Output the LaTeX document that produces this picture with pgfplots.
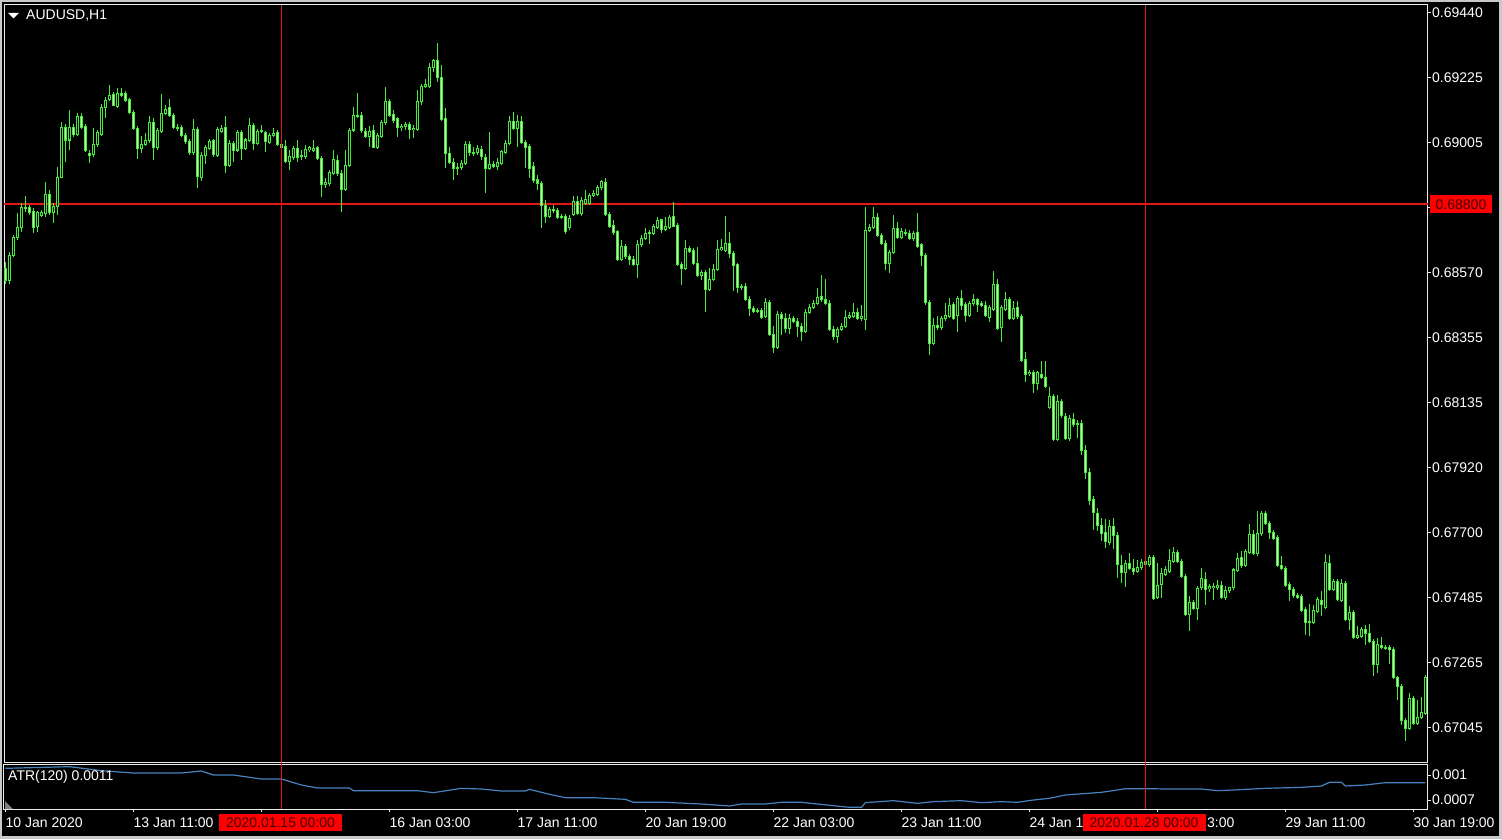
\documentclass[border=0pt]{standalone}
\usepackage{pgfplots}
\pgfplotsset{compat=1.18}
\usepackage{pgfplotstable}
\usepackage{fontspec}
\setmainfont{Liberation Sans}
\definecolor{candle}{RGB}{70,235,60}
\definecolor{bearfill}{RGB}{190,255,175}
\definecolor{crosscol}{RGB}{230,25,25}
\definecolor{atrblue}{RGB}{70,130,190}
\definecolor{framecol}{RGB}{235,235,235}
\definecolor{bordergray}{RGB}{200,200,200}
\definecolor{boxtext}{RGB}{70,0,0}
\newcommand\mtfont{\fontsize{14}{16.8}\selectfont}

\pgfplotstableread{
i o h l c
0 68585 68605 68534 68544
1 68544 68638 68531 68628
2 68628 68695 68622 68689
3 68689 68769 68678 68722
4 68722 68802 68705 68789
5 68789 68826 68772 68786
6 68786 68796 68762 68772
7 68776 68786 68702 68722
8 68725 68776 68705 68769
9 68762 68779 68756 68772
10 68769 68873 68756 68833
11 68833 68846 68762 68772
12 68772 68802 68735 68792
13 68792 68923 68762 68890
14 68890 69074 68886 69057
15 69057 69067 68940 69014
16 69014 69114 68980 69057
17 69057 69067 69024 69034
18 69034 69104 69027 69094
19 69094 69104 69050 69057
20 69060 69067 68973 68980
21 68970 68980 68936 68963
22 68967 69054 68957 69000
23 68997 69047 68990 69037
24 69034 69134 69027 69124
25 69124 69158 69087 69148
26 69148 69198 69144 69164
27 69168 69174 69127 69131
28 69127 69188 69121 69171
29 69171 69188 69158 69164
30 69171 69178 69141 69148
31 69148 69154 69101 69107
32 69107 69114 69047 69054
33 69054 69060 68950 68987
34 68987 69030 68973 69000
35 69000 69037 68993 69014
36 69014 69097 69007 69074
37 69074 69087 68947 68990
38 68990 69054 68983 69047
39 69044 69168 69037 69104
40 69104 69131 69097 69117
41 69121 69151 69091 69097
42 69097 69104 69050 69057
43 69057 69067 69044 69054
44 69057 69064 69024 69030
45 69030 69037 69000 69010
46 69010 69017 68963 68970
47 68970 69084 68963 69050
48 69050 69057 68853 68890
49 68890 68973 68876 68963
50 68963 68997 68936 68990
51 68987 69017 68980 69010
52 69010 69017 68957 68963
53 68963 69057 68957 69050
54 69044 69064 69037 69054
55 69057 69097 68906 68930
56 68930 69014 68923 69003
57 69003 69010 68940 68980
58 68980 69047 68973 69040
59 69040 69047 68947 68987
60 68987 69020 68980 69014
61 69014 69087 69007 69064
62 69064 69070 68980 69003
63 69003 69050 68997 69044
64 69044 69064 69037 69047
65 69037 69044 68973 69007
66 69007 69037 69000 69030
67 69030 69054 69024 69037
68 69040 69047 68993 69000
69 69000 69014 68980 68990
70 68993 69014 68936 68943
71 68943 68980 68913 68957
72 68957 68993 68947 68987
73 68987 69014 68940 68957
74 68960 68980 68947 68963
75 68957 68997 68950 68983
76 68983 68993 68973 68987
77 68980 69014 68973 68987
78 68987 68993 68947 68953
79 68953 68960 68823 68866
80 68866 68886 68853 68873
81 68869 68913 68859 68903
82 68903 68980 68896 68950
83 68947 68963 68893 68903
84 68903 68913 68772 68849
85 68849 68980 68843 68930
86 68930 69054 68923 69047
87 69047 69124 69040 69097
88 69097 69171 69087 69094
89 69094 69107 69037 69044
90 69044 69054 69020 69027
91 69027 69060 68990 69044
92 69044 69064 68987 68990
93 68990 69037 68983 69030
94 69027 69080 69020 69074
95 69070 69191 69064 69141
96 69144 69151 69091 69097
97 69101 69114 69070 69080
98 69084 69091 69024 69054
99 69054 69067 69044 69060
100 69060 69074 69047 69067
101 69067 69074 69017 69050
102 69050 69064 69020 69054
103 69050 69181 69044 69144
104 69144 69201 69131 69194
105 69194 69218 69188 69201
106 69194 69271 69188 69258
107 69258 69285 69241 69282
108 69282 69338 69208 69225
109 69225 69265 69077 69084
110 69087 69121 68920 68970
111 68970 68990 68933 68940
112 68940 68953 68880 68920
113 68920 68936 68896 68923
114 68923 68947 68913 68936
115 68936 69010 68930 69000
116 69000 69010 68960 68970
117 68970 68990 68960 68973
118 68973 68997 68963 68987
119 68983 68993 68947 68957
120 68957 68967 68836 68920
121 68920 69040 68913 68933
122 68933 68943 68920 68926
123 68926 68953 68913 68940
124 68936 68980 68930 68977
125 68973 69014 68967 69003
126 69003 69094 68997 69077
127 69077 69107 69047 69054
128 69054 69097 68990 69077
129 69077 69094 69000 69007
130 69007 69014 68920 68990
131 68993 69000 68886 68920
132 68923 68940 68869 68876
133 68880 68896 68846 68869
134 68869 68876 68719 68796
135 68796 68813 68735 68759
136 68759 68789 68752 68782
137 68782 68796 68769 68776
138 68779 68786 68749 68756
139 68759 68766 68749 68756
140 68759 68766 68699 68709
141 68722 68762 68712 68752
142 68766 68826 68759 68809
143 68809 68826 68762 68769
144 68769 68823 68759 68813
145 68802 68846 68796 68816
146 68802 68836 68796 68829
147 68829 68846 68823 68833
148 68833 68863 68826 68856
149 68853 68880 68846 68873
150 68873 68886 68759 68766
151 68766 68772 68719 68725
152 68729 68746 68695 68705
153 68709 68712 68608 68615
154 68615 68679 68608 68658
155 68658 68668 68615 68625
156 68625 68632 68595 68615
157 68615 68625 68592 68598
158 68598 68679 68551 68665
159 68665 68695 68655 68685
160 68685 68719 68679 68702
161 68702 68715 68668 68705
162 68702 68732 68695 68725
163 68722 68756 68715 68746
164 68746 68752 68705 68715
165 68715 68756 68709 68725
166 68722 68762 68715 68756
167 68759 68806 68722 68725
168 68729 68735 68592 68598
169 68598 68605 68528 68585
170 68585 68679 68578 68652
171 68652 68658 68635 68642
172 68645 68652 68595 68601
173 68601 68655 68555 68561
174 68561 68578 68545 68571
175 68571 68578 68437 68514
176 68514 68585 68508 68548
177 68548 68598 68541 68581
178 68581 68679 68575 68648
179 68648 68682 68642 68652
180 68645 68759 68638 68668
181 68668 68705 68618 68635
182 68635 68642 68508 68595
183 68595 68601 68501 68521
184 68521 68531 68511 68524
185 68524 68534 68474 68481
186 68481 68491 68424 68451
187 68451 68457 68434 68441
188 68441 68451 68434 68444
189 68444 68451 68414 68421
190 68424 68484 68417 68471
191 68471 68478 68357 68364
192 68364 68390 68300 68320
193 68320 68441 68313 68431
194 68431 68437 68360 68417
195 68417 68434 68367 68384
196 68384 68431 68364 68417
197 68417 68424 68400 68407
198 68407 68417 68354 68390
199 68390 68400 68340 68374
200 68374 68447 68367 68437
201 68437 68464 68431 68454
202 68454 68478 68447 68467
203 68467 68518 68461 68488
204 68488 68561 68471 68478
205 68478 68548 68461 68467
206 68467 68478 68374 68380
207 68380 68390 68344 68354
208 68354 68387 68333 68380
209 68380 68400 68374 68390
210 68390 68444 68384 68421
211 68421 68437 68414 68427
212 68424 68467 68417 68437
213 68437 68451 68410 68417
214 68417 68461 68410 68421
215 68414 68789 68377 68712
216 68712 68732 68705 68722
217 68722 68789 68715 68756
218 68756 68769 68689 68695
219 68695 68702 68662 68668
220 68668 68679 68578 68601
221 68601 68645 68568 68638
222 68638 68762 68632 68719
223 68719 68739 68682 68689
224 68689 68719 68682 68709
225 68705 68715 68692 68702
226 68702 68712 68679 68685
227 68685 68709 68675 68702
228 68702 68769 68652 68658
229 68662 68668 68592 68628
230 68628 68635 68461 68471
231 68471 68478 68293 68333
232 68333 68417 68327 68394
233 68394 68427 68380 68387
234 68387 68424 68377 68417
235 68414 68467 68407 68424
236 68424 68484 68417 68461
237 68461 68471 68410 68417
238 68424 68491 68370 68484
239 68484 68511 68444 68461
240 68464 68471 68404 68427
241 68427 68474 68421 68467
242 68467 68498 68457 68478
243 68478 68484 68437 68464
244 68467 68474 68454 68461
245 68461 68474 68421 68427
246 68421 68461 68404 68454
247 68447 68575 68441 68531
248 68531 68548 68377 68384
249 68384 68461 68337 68454
250 68447 68504 68441 68481
251 68481 68488 68410 68417
252 68417 68474 68410 68451
253 68451 68474 68414 68421
254 68424 68431 68270 68277
255 68277 68303 68203 68230
256 68230 68243 68223 68236
257 68236 68243 68166 68199
258 68199 68240 68176 68233
259 68230 68273 68213 68220
260 68220 68273 68183 68189
261 68119 68186 68112 68156
262 68156 68163 68005 68012
263 68012 68159 68005 68139
264 68139 68146 68082 68089
265 68089 68099 68009 68015
266 68015 68092 68005 68082
267 68079 68102 68055 68062
268 68062 68076 68015 68065
269 68065 68076 67958 67975
270 67975 67992 67881 67901
271 67901 67915 67791 67808
272 67808 67824 67707 67764
273 67764 67781 67704 67724
274 67724 67747 67670 67697
275 67697 67744 67647 67667
276 67667 67741 67657 67720
277 67720 67747 67643 67690
278 67690 67700 67546 67593
279 67590 67623 67529 67566
280 67566 67607 67516 67596
281 67596 67630 67573 67580
282 67580 67610 67556 67570
283 67570 67607 67563 67583
284 67583 67613 67576 67600
285 67590 67607 67583 67600
286 67590 67623 67583 67616
287 67616 67623 67473 67479
288 67482 67596 67476 67523
289 67523 67580 67479 67560
290 67560 67586 67553 67576
291 67570 67643 67563 67607
292 67603 67650 67596 67633
293 67633 67640 67596 67603
294 67603 67610 67546 67553
295 67553 67560 67419 67426
296 67426 67486 67369 67466
297 67466 67473 67439 67446
298 67446 67519 67406 67513
299 67513 67580 67506 67543
300 67543 67566 67456 67509
301 67509 67526 67499 67516
302 67513 67529 67473 67519
303 67516 67540 67506 67523
304 67523 67536 67476 67482
305 67482 67519 67473 67506
306 67503 67519 67496 67513
307 67513 67580 67506 67573
308 67573 67630 67566 67613
309 67613 67637 67580 67586
310 67590 67643 67583 67637
311 67633 67727 67627 67694
312 67694 67707 67623 67630
313 67630 67771 67620 67697
314 67697 67771 67690 67764
315 67764 67771 67724 67730
316 67730 67737 67677 67700
317 67700 67707 67674 67680
318 67684 67690 67583 67590
319 67590 67620 67573 67580
320 67580 67586 67516 67523
321 67526 67533 67469 67509
322 67509 67516 67479 67489
323 67489 67496 67476 67482
324 67486 67493 67432 67439
325 67442 67449 67355 67399
326 67399 67459 67352 67402
327 67399 67456 67392 67439
328 67436 67483 67429 67476
329 67473 67503 67419 67459
330 67449 67627 67442 67600
331 67596 67623 67503 67509
332 67509 67543 67503 67536
333 67536 67543 67469 67476
334 67473 67543 67466 67529
335 67529 67536 67402 67409
336 67409 67452 67372 67432
337 67432 67439 67342 67348
338 67348 67385 67342 67355
339 67352 67382 67345 67375
340 67375 67389 67322 67362
341 67362 67392 67328 67335
342 67335 67342 67218 67258
343 67258 67348 67231 67322
344 67322 67348 67308 67315
345 67315 67322 67305 67312
346 67312 67322 67258 67308
347 67308 67315 67208 67215
348 67215 67221 67138 67184
349 67184 67191 67054 67071
350 67071 67077 67000 67044
351 67044 67161 67037 67144
352 67144 67151 67054 67060
353 67060 67138 67054 67080
354 67080 67147 67074 67094
355 67094 67221 67087 67215
}\candles

\pgfplotstableread{
i v
0 108.0
16 110.0
24 105.2
32 102.4
44 102.4
49 104.8
52 100.0
57 100.0
64 95.2
69 95.2
74 88.0
78 84.4
86 84.4
87 81.2
103 81.2
107 78.8
114 84.0
119 83.2
124 80.8
130 80.8
131 82.8
136 76.8
140 72.8
147 72.8
155 70.8
157 67.2
165 67.2
174 65.2
181 62.8
184 65.2
190 65.2
194 67.2
199 67.2
203 65.2
211 61.2
214 61.2
215 66.8
222 69.2
228 66.0
232 68.0
239 69.2
244 66.8
249 68.0
253 67.2
257 70.0
261 72.0
265 76.0
274 79.2
278 82.0
280 83.6
286 83.6
290 83.2
299 83.2
303 81.2
307 82.0
315 84.0
324 85.2
329 86.8
331 91.2
334 91.2
335 86.8
340 88.0
345 90.8
349 90.8
355 90.8
}\atr

\begin{document}
\begin{tikzpicture}[x=1pt,y=1pt]
\fill[black] (0,0) rectangle (1502,839);
\fill[bordergray] (0,837) rectangle (1502,839);
\fill[bordergray] (0,0) rectangle (1.5,839);
\fill[bordergray] (1499,0) rectangle (1502,839);
\fill[bordergray] (0,0) rectangle (1502,3);

\begin{axis}[
  at={(4pt,77pt)}, anchor=south west,
  scale only axis, width=1424pt, height=757pt,
  xmin=-0.35, xmax=355.65, ymin=66929.8, ymax=69465.75,
  scaled x ticks=false, scaled y ticks=false,
  axis line style={framecol, line width=1pt},
  xtick=\empty,
  ytick={69440,69222.25,69004.5,68786.75,68569,68351.25,68133.5,67915.75,67698,67480.25,67262.5,67044.75},
  yticklabels={0.69440,0.69225,0.69005,,0.68570,0.68355,0.68135,0.67920,0.67700,0.67485,0.67265,0.67045},
  ytick pos=right, yticklabel pos=right,
  tick align=outside, major tick length=3pt,
  tick style={framecol, line width=0.8pt},
  yticklabel style={font=\mtfont, text=white, anchor=west, inner sep=0pt, xshift=1pt},
  clip=true,
]
\addplot[crosscol, line width=1.7pt, mark=none, forget plot] coordinates {(-1,68800) (357,68800)};
\addplot[draw=none, forget plot,
  error bars/.cd, y dir=both, y explicit, error mark=none,
  error bar style={draw=candle, line width=1pt}]
  table[x=i, y expr={(\thisrow{h}+\thisrow{l})/2}, y error expr={(\thisrow{h}-\thisrow{l})/2}] {\candles};
\addplot[draw=none, forget plot,
  error bars/.cd, y dir=both, y explicit, error mark=none,
  error bar style={draw=candle, line width=3pt}]
  table[x=i, y expr={(\thisrow{o}+\thisrow{c})/2}, y error expr={abs(\thisrow{c}-\thisrow{o})/2+1.7}] {\candles};
\addplot[draw=none, forget plot,
  error bars/.cd, y dir=both, y explicit, error mark=none,
  error bar style={draw=black, line width=1pt}]
  table[x=i, y expr={(\thisrow{o}+\thisrow{c})/2}, y error expr={max(0,(\thisrow{c}-\thisrow{o})/2-1.7)}] {\candles};
\addplot[draw=none, forget plot,
  error bars/.cd, y dir=both, y explicit, error mark=none,
  error bar style={draw=bearfill, line width=1pt}]
  table[x=i, y expr={(\thisrow{o}+\thisrow{c})/2}, y error expr={max(0,(\thisrow{o}-\thisrow{c})/2-1.7)}] {\candles};
\end{axis}

\begin{axis}[
  at={(4pt,30pt)}, anchor=south west,
  scale only axis, width=1424pt, height=45pt,
  xmin=-0.35, xmax=355.65, ymin=59.2, ymax=113.2,
  scaled x ticks=false, scaled y ticks=false,
  axis line style={framecol, line width=1pt},
  xtick={0,32,64,96,128,160,192,224,256,288,320,352},
  xticklabels={10 Jan 2020,13 Jan 11:00,,16 Jan 03:00,17 Jan 11:00,20 Jan 19:00,22 Jan 03:00,23 Jan 11:00,24 Jan 1,,29 Jan 11:00,30 Jan 19:00},
  xtick pos=bottom, xticklabel pos=left,
  ytick={100,70}, yticklabels={0.001,0.0007},
  ytick pos=right, yticklabel pos=right,
  tick align=outside, major tick length=3pt,
  tick style={framecol, line width=0.8pt},
  xticklabel style={font=\mtfont, text=white, anchor=west, inner sep=0pt, yshift=-10.5pt},
  yticklabel style={font=\mtfont, text=white, anchor=west, inner sep=0pt, xshift=1pt},
]
\addplot[atrblue, line width=1.2pt, mark=none] table[x=i, y=v] {\atr};
\end{axis}

% vertical crosshair lines through both panels
\fill[crosscol] (280.6,30) rectangle (282.4,834);
\fill[crosscol] (1144.6,30) rectangle (1146.4,834);
% price marker
\node[fill=red, text=boxtext, font=\mtfont, inner sep=0pt, minimum width=62pt, minimum height=18pt] at (1461,634.5) {0.68800};
% date markers
\node[fill=red, text=boxtext, font=\mtfont, inner sep=0pt, minimum width=123pt, minimum height=17pt] at (280.5,16.5) {2020.01.15 00:00};
\node[fill=red, text=boxtext, font=\mtfont, inner sep=0pt, minimum width=123pt, minimum height=17pt] at (1144,16.5) {2020.01.28 00:00};
\node[anchor=west, text=white, font=\mtfont, inner sep=0pt] at (1207,16.5) {3:00};
% header
\fill[white] (8,826) -- (19,826) -- (13.5,820.5) -- cycle;
\node[anchor=west, text=white, font=\mtfont, inner sep=0pt] at (26,823.3) {AUDUSD,H1};
\node[anchor=west, text=white, font=\mtfont, inner sep=0pt] at (8,62.3) {ATR(120) 0.0011};
\fill[gray] (5,30) -- (13,30) -- (5,38) -- cycle;
\pgfresetboundingbox
\path[use as bounding box] (0,0) rectangle (1502,839);
\end{tikzpicture}
\end{document}
